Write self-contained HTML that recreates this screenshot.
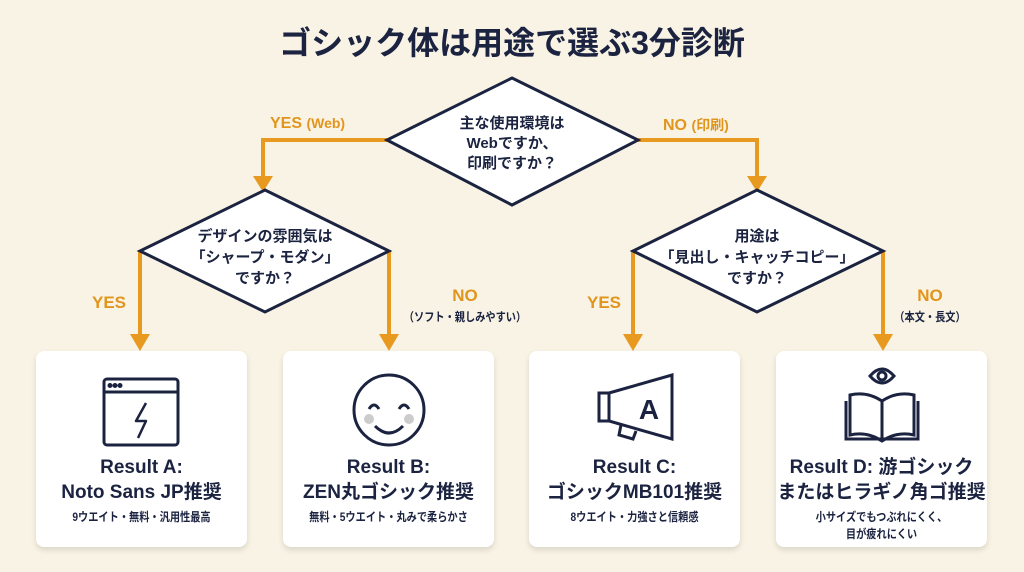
<!DOCTYPE html>
<html><head><meta charset="utf-8"><style>
body{margin:0;width:1024px;height:572px;background:#f8f3e4;font-family:"Liberation Sans","Noto Sans CJK JP",sans-serif;color:#1b2340;position:relative;overflow:hidden}
.t{position:absolute;text-align:center;font-weight:bold}
.card{position:absolute;top:351px;width:211px;height:196px;background:#fff;border-radius:8px;box-shadow:0 3px 6px rgba(0,0,0,.12)}
.card .h{position:absolute;top:104px;width:100%;text-align:center;font-weight:bold;font-size:19px;line-height:25px}
.card .s{position:absolute;top:158px;width:100%;text-align:center;font-size:12px;font-weight:bold;line-height:17px;transform:scaleX(0.85)}
.o{color:#e2951c;font-weight:bold;position:absolute;text-align:center}
</style></head><body>
<div class="t" style="left:0;width:1024px;top:18px;font-size:32px;">ゴシック体は用途で選ぶ3分診断</div>
<svg width="1024" height="572" style="position:absolute;left:0;top:0">
<g fill="none" stroke="#e8991f" stroke-width="4">
<polyline points="387,140 263,140 263,180"/>
<polyline points="638,140 757,140 757,180"/>
<polyline points="140,251 140,340"/>
<polyline points="389,251 389,340"/>
<polyline points="633,251 633,340"/>
<polyline points="883,251 883,340"/>
</g>
<g fill="#e8991f">
<polygon points="253,176 273,176 263,192"/>
<polygon points="747,176 767,176 757,192"/>
<polygon points="130,334 150,334 140,351"/>
<polygon points="379,334 399,334 389,351"/>
<polygon points="623,334 643,334 633,351"/>
<polygon points="873,334 893,334 883,351"/>
</g>
<g fill="#fff" stroke="#1b2340" stroke-width="3" stroke-linejoin="miter">
<polygon points="512,78 638,140 512,205 387,140"/>
<polygon points="265,190 389,251 265,312 140,251"/>
<polygon points="757,190 883,251 757,312 633,251"/>
</g>
</svg>
<div class="t" style="left:412px;width:200px;top:114px;font-size:15px;line-height:20px">主な使用環境は<br>Webですか、<br>印刷ですか？</div>
<div class="t" style="left:165px;width:200px;top:226px;font-size:15px;line-height:21px">デザインの雰囲気は<br>「シャープ・モダン」<br>ですか？</div>
<div class="t" style="left:657px;width:200px;top:226px;font-size:15px;line-height:21px">用途は<br>「見出し・キャッチコピー」<br>ですか？</div>
<div class="o" style="left:270px;top:115px;font-size:16px">YES <span style="font-size:14px">(Web)</span></div>
<div class="o" style="left:663px;top:115px;font-size:16px">NO <span style="font-size:14px">(印刷)</span></div>
<div class="o" style="left:92px;top:293px;font-size:17px">YES</div>
<div class="o" style="left:587px;top:293px;font-size:17px">YES</div>
<div class="o" style="left:390px;top:286px;width:150px;font-size:17px;line-height:20px">NO<br><span style="font-size:12px;color:#1b2340;display:inline-block;transform:scaleX(0.85)">（ソフト・親しみやすい）</span></div>
<div class="o" style="left:880px;top:286px;width:100px;font-size:17px;line-height:20px">NO<br><span style="font-size:12px;color:#1b2340;display:inline-block;transform:scaleX(0.85)">（本文・長文）</span></div>

<div class="card" style="left:36px"><svg width="211" height="100" style="position:absolute;top:0;left:0" fill="none" stroke="#1b2340" stroke-width="3">
<rect x="68" y="28" width="74" height="66" rx="3"/><line x1="68" y1="41" x2="142" y2="41"/>
<circle cx="74" cy="34.5" r="1" fill="#1b2340"/><circle cx="79" cy="34.5" r="1" fill="#1b2340"/><circle cx="84" cy="34.5" r="1" fill="#1b2340"/>
<polyline points="110,52 100,70 110,70 102,87" stroke-width="2.5" stroke-linejoin="round"/></svg>
<div class="h">Result A:<br>Noto Sans JP推奨</div><div class="s">9ウエイト・無料・汎用性最高</div></div>

<div class="card" style="left:283px"><svg width="211" height="100" style="position:absolute;top:0;left:0" fill="none" stroke="#1b2340" stroke-width="3">
<circle cx="106" cy="59" r="35"/><circle cx="86" cy="68" r="5" fill="#ccc" stroke="none"/><circle cx="126" cy="68" r="5" fill="#ccc" stroke="none"/>
<path d="M86 58 q5 -8 10 0 M116 58 q5 -8 10 0"/><path d="M92 75 q14 14 28 0"/></svg>
<div class="h">Result B:<br>ZEN丸ゴシック推奨</div><div class="s">無料・5ウエイト・丸みで柔らかさ</div></div>

<div class="card" style="left:529px"><svg width="211" height="100" style="position:absolute;top:0;left:0" fill="none" stroke="#1b2340" stroke-width="3">
<rect x="70" y="42" width="10" height="28"/><polygon points="80,42 143,24 143,88 80,70"/><path d="M92 74 l-2 10 l14 4 l3 -8"/>
<text x="120" y="68" font-family="Liberation Sans" font-weight="bold" font-size="28" fill="#1b2340" stroke="none" text-anchor="middle">A</text></svg>
<div class="h">Result C:<br>ゴシックMB101推奨</div><div class="s">8ウエイト・力強さと信頼感</div></div>

<div class="card" style="left:776px"><svg width="211" height="100" style="position:absolute;top:0;left:0" fill="none" stroke="#1b2340" stroke-width="3">
<path d="M94 25 q12 -14 24 0 q-12 14 -24 0z"/><circle cx="106" cy="25" r="4"/>
<path d="M106 50 q-15 -10 -32 -6 v40 q17 -4 32 6 q15 -10 32 -6 v-40 q-17 -4 -32 6 v40"/><path d="M70 50 v38 h72 v-38"/></svg>
<div class="h">Result D: 游ゴシック<br>またはヒラギノ角ゴ推奨</div><div class="s">小サイズでもつぶれにくく、<br>目が疲れにくい</div></div>
</body></html>
